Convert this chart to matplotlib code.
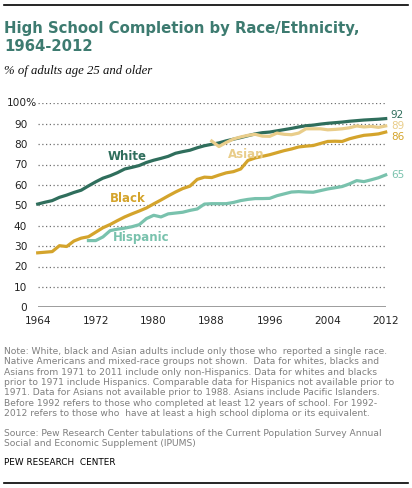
import matplotlib
matplotlib.use("Agg")
import matplotlib.pyplot as plt
from matplotlib.lines import Line2D

# Values (% of adults 25+ who completed high school)
years = list(range(1964, 2013))
white = [50.6, 51.5, 52.3, 53.9, 55.0, 56.3, 57.4, 59.5, 61.5, 63.3,
         64.5, 66.0, 67.8, 68.6, 69.5, 71.0, 72.1, 73.0, 74.0, 75.5,
         76.3, 77.0, 78.2, 79.2, 79.9, 80.6, 81.6, 82.4, 83.2, 84.1,
         85.0, 85.6, 85.9, 86.5, 87.1, 87.7, 88.4, 89.0, 89.3, 89.8,
         90.2, 90.5, 90.8, 91.2, 91.5, 91.8, 92.0, 92.2, 92.5]
black = [26.7, 27.0, 27.3, 30.2, 29.8, 32.5, 33.9, 34.6, 36.8, 39.0,
         40.6, 42.5, 44.3, 45.8, 47.2, 48.7, 50.7, 52.6, 54.6, 56.5,
         58.2, 59.4, 62.7, 63.8, 63.6, 64.8, 65.9, 66.5, 67.8, 72.0,
         73.2, 74.0, 74.8, 75.8, 76.8, 77.6, 78.6, 79.0, 79.3, 80.3,
         81.3, 81.4, 81.3, 82.6, 83.5, 84.3, 84.6, 85.0, 85.9]
hisp_years = list(range(1971, 2013))
hispanic = [32.7, 32.7, 34.5, 37.6, 38.3, 38.8, 39.5, 40.5, 43.5, 45.1,
            44.3, 45.8, 46.2, 46.6, 47.5, 48.2, 50.6, 50.8, 50.8, 50.8,
            51.4, 52.3, 52.9, 53.3, 53.3, 53.4, 54.7, 55.6, 56.5, 56.7,
            56.5, 56.4, 57.2, 58.0, 58.6, 59.2, 60.5, 62.1, 61.6, 62.5,
            63.5, 64.9]
asian_years = list(range(1988, 2013))
asian = [81.5, 78.8, 80.8, 82.5, 83.5, 84.3, 84.8, 83.9, 83.8, 85.4,
         84.8, 84.6, 85.4, 87.5, 87.5, 87.5, 87.0, 87.2, 87.5, 88.0,
         88.9, 88.4, 88.7, 88.2, 88.9]

yticks = [0, 10, 20, 30, 40, 50, 60, 70, 80, 90, 100]
xticks = [1964, 1972, 1980, 1988, 1996, 2004, 2012]
end_labels = ["92", "89", "86", "65"]

c_white = "#2f6e5c"
c_black = "#d4a42c"
c_asian = "#e9cd8a"
c_hisp = "#79c2ad"
c_title = "#3d7b70"

W, H = 412, 488
fig = plt.figure(figsize=(W / 100, H / 100), dpi=100)

def fx(x):
    return x / W

def fy(y):
    return 1 - y / H

ax = fig.add_axes([fx(37.7), fy(307.3), fx(385.7) - fx(37.7), fy(103.3) - fy(307.3)])
ax.set_xlim(1964, 2012)
ax.set_ylim(0, 100)

# dotted grid
for v in yticks[1:]:
    ax.axhline(v, color="#707070", lw=0.9, ls=(0, (1, 2)), zorder=1)
ax.axhline(0, color="#8c8c8c", lw=1.2, zorder=1)

lw = 2.3
ax.plot(years, black, color=c_black, lw=lw, zorder=3, clip_on=False)
ax.plot(hisp_years, hispanic, color=c_hisp, lw=lw, zorder=3, clip_on=False)
ax.plot(asian_years, asian, color=c_asian, lw=lw, zorder=3, clip_on=False)
ax.plot(years, white, color=c_white, lw=lw, zorder=2, clip_on=False)

for s in ax.spines.values():
    s.set_visible(False)
ax.tick_params(length=0)
ax.set_yticks(yticks)
# top label gets a "%" so it is drawn separately
ax.set_yticklabels([str(v) for v in yticks[:-1]] + [""], fontsize=7.6, color="#222222")
ax.tick_params(axis="y", pad=7.5)
ax.text((7.2 - 37.7) / 348, 100, "100%", transform=ax.get_yaxis_transform(), fontsize=7.6,
        color="#222222", va="center", ha="left")
ax.set_xticks(xticks)
ax.set_xticklabels([str(v) for v in xticks], fontsize=7.6, color="#222222")
ax.tick_params(axis="x", pad=6)

# series labels
ax.text(1973.7, 73.7, "White", color=c_white, fontsize=8.5, fontweight="bold", va="center")
ax.text(1974.0, 53.1, "Black", color=c_black, fontsize=8.5, fontweight="bold", va="center")
ax.text(1974.4, 34.0, "Hispanic", color=c_hisp, fontsize=8.5, fontweight="bold", va="center")
ax.text(1990.2, 74.7, "Asian", color=c_asian, fontsize=8.5, fontweight="bold", va="center")

# end values
for lab, yv, col in zip(end_labels, [94.5, 89.0, 83.4, 64.9], [c_white, c_asian, c_black, c_hisp]):
    ax.text(2012.7, yv, lab, color=col, fontsize=7.5, va="center", ha="left")

# header
fig.add_artist(Line2D([fx(4), fx(408)], [fy(4.5), fy(4.5)], color="black", lw=1.2))
fig.text(fx(4), fy(33.3), "High School Completion by Race/Ethnicity,", fontsize=10.7,
         fontweight="bold", color=c_title, va="baseline")
fig.text(fx(4), fy(51), "1964-2012", fontsize=10.7, fontweight="bold", color=c_title, va="baseline")
fig.text(fx(4), fy(74), "% of adults age 25 and older", fontsize=9.2, style="italic",
         family="Liberation Serif", color="#111111", va="baseline")

# notes
notes = [
    "Note: White, black and Asian adults include only those who  reported a single race.",
    "Native Americans and mixed-race groups not shown.  Data for whites, blacks and",
    "Asians from 1971 to 2011 include only non-Hispanics. Data for whites and blacks",
    "prior to 1971 include Hispanics. Comparable data for Hispanics not available prior to",
    "1971. Data for Asians not available prior to 1988. Asians include Pacific Islanders.",
    "Before 1992 refers to those who completed at least 12 years of school. For 1992-",
    "2012 refers to those who  have at least a high school diploma or its equivalent.",
]
for i, line in enumerate(notes):
    fig.text(fx(4), fy(351.7 + i * 10.3), line, fontsize=6.55, color="#7f7f7f", va="center")
source = [
    "Source: Pew Research Center tabulations of the Current Population Survey Annual",
    "Social and Economic Supplement (IPUMS)",
]
for i, line in enumerate(source):
    fig.text(fx(4), fy(434 + i * 9.6), line, fontsize=6.55, color="#7f7f7f", va="center")
fig.text(fx(4), fy(462.7), "PEW RESEARCH  CENTER", fontsize=6.4, color="black", va="center")
fig.add_artist(Line2D([fx(4), fx(408)], [fy(483.3), fy(483.3)], color="black", lw=1.2))

fig.savefig("out.png", dpi=100)
